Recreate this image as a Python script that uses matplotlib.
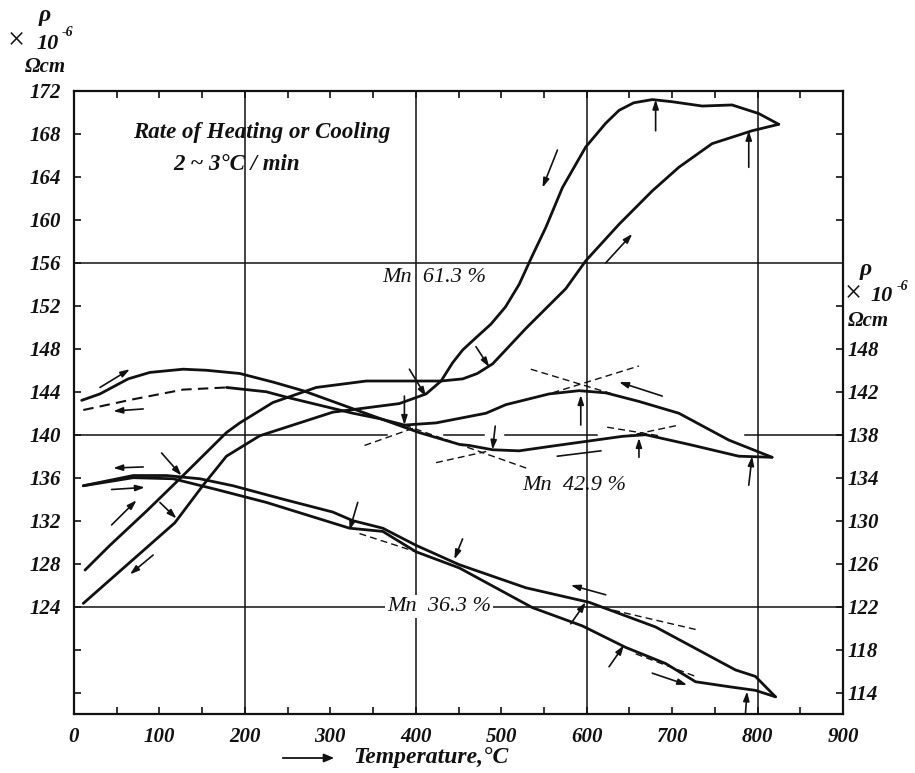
import matplotlib
matplotlib.use("Agg")
import matplotlib.pyplot as plt

# ── Mn 61.3 % loop ──
mn613_heat_T = [12.9, 42, 85, 123.8, 178.4, 194, 232.8, 283.5, 342, 429.6, 455,
                472, 490, 528.9, 575.6, 599, 638, 676.8, 707.9, 746.8, 793.6, 824.8]
mn613_heat_rho = [127.4, 129.7, 132.9, 135.9, 140.2, 141.1, 143.0, 144.4, 145.0, 145.0, 145.2,
                  145.7, 146.6, 149.9, 153.6, 156.2, 159.6, 162.7, 164.9, 167.1, 168.3, 168.9]
mn613_cool_T = [824.8, 801.4, 770.2, 735.2, 700.1, 676.8, 655, 637.9, 622.3, 599, 571.6,
                552.2, 536, 521, 505, 488, 470, 455, 443.1, 429.6, 412.1, 380.8, 302.9,
                244.5, 217.3, 178.4, 151.1, 118, 10.9]
mn613_cool_rho = [168.9, 169.9, 170.7, 170.6, 171.0, 171.2, 170.9, 170.2, 169.0, 166.8, 163.0,
                  159.3, 156.6, 154.0, 151.9, 150.3, 149.0, 147.9, 146.7, 145.0, 143.8, 142.9,
                  142.1, 140.6, 139.9, 138.0, 135.3, 131.8, 124.3]

# ── Mn 42.9 % ──
mn429_a_T = [9.0, 30.4, 63.4, 88.8, 127.7, 155, 194, 233, 268, 334, 404, 451, 462.6,
             490, 521, 556, 583, 642, 669, 719.6, 778, 817]
mn429_a_rho = [143.2, 143.8, 145.2, 145.8, 146.1, 146.0, 145.7, 144.9, 144.1, 142.2, 140.2,
               139.1, 139.0, 138.6, 138.5, 138.9, 139.2, 139.85, 140.0, 139.1, 138.0, 137.9]
mn429_b_dash_T = [10.9, 69.3, 127.7, 178.4]
mn429_b_dash_rho = [142.3, 143.3, 144.2, 144.4]
mn429_b_T = [178.4, 225, 248.5, 326.4, 357.5, 386.7, 423.7, 482.1, 505.5, 556.1, 591.1,
             622.3, 661.2, 707.9, 766.4, 817]
mn429_b_rho = [144.4, 144.0, 143.5, 142.0, 141.5, 140.9, 141.1, 142.0, 142.8, 143.8, 144.1,
               143.9, 143.1, 142.0, 139.5, 137.9]

# ── Mn 36.3 % ──
mn363_a_T = [10.9, 69.3, 108.3, 147.2, 186.1, 244.5, 302.9, 326.3, 361.3, 400.4, 450.9,
             528.9, 602.8, 680.7, 774.2, 797.5, 821]
mn363_a_rho = [135.25, 136.2, 136.2, 135.9, 135.25, 134.0, 132.8, 132.0, 131.3, 129.7, 127.9,
               125.75, 124.4, 122.1, 118.1, 117.5, 115.6]
mn363_b_T = [10.9, 69.3, 116, 166.7, 225.1, 322.4, 361.3, 400.4, 450.9, 536.6, 595,
             645.7, 692.4, 727.5, 770.2, 797.5, 821]
mn363_b_rho = [135.25, 136.0, 135.9, 134.9, 133.7, 131.3, 131.0, 129.1, 127.6, 123.9, 122.2,
               120.2, 118.7, 117.0, 116.5, 116.2, 115.6]

# dashed tangent construction lines: (T0, rho0, T1, rho1)
tangents = [
    (340, 139.0, 400.4, 140.7), (386.7, 140.9, 532.7, 136.8), (423.7, 137.4, 486, 138.5),
    (534.6, 146.1, 630, 143.8), (560, 143.9, 661.2, 146.4),
    (624, 140.7, 685, 139.9), (645.6, 139.85, 708, 140.9),
    (334.1, 130.8, 400.4, 129.1), (618.3, 123.9, 731.3, 121.8), (657.4, 119.6, 727.5, 117.5),
]

# direction arrows: (tail T, tail rho, head T, head rho)
arrows = [
    (565.8, 166.5, 548.3, 163.0), (622.3, 156.0, 653.4, 158.7), (680.7, 168.3, 680.7, 171.2),
    (789.7, 164.9, 789.7, 168.3), (392.5, 146.1, 412, 143.55), (470.4, 148.2, 486, 146.3),
    (102.5, 138.3, 125.8, 136.2), (100.5, 133.7, 120, 132.2), (44, 131.6, 73.2, 133.9),
    (92.6, 128.8, 65.4, 127.0),
    (30.4, 144.4, 65.4, 146.1), (81, 142.4, 46, 142.2), (386.7, 143.6, 386.7, 140.9),
    (593.1, 140.9, 593.1, 143.7), (688.4, 143.6, 637.9, 144.9), (493, 140.8, 489.8, 138.6),
    (661.2, 137.9, 661.2, 139.7), (789.7, 135.3, 793.6, 138.0),
    (81, 137.0, 45.9, 136.9), (44, 134.9, 83, 135.1), (332.1, 133.7, 322.4, 131.1),
    (454.8, 130.3, 445.1, 128.4), (622.3, 125.1, 581.4, 126.0), (581.4, 122.4, 598.9, 124.4),
    (626.2, 118.4, 643.7, 120.4), (676.8, 117.8, 717.6, 116.7), (785.9, 114.1, 787.7, 116.1),
]
plain_marks = [(565.8, 138.0, 616.5, 138.5)]

x_major = [0, 100, 200, 300, 400, 500, 600, 700, 800, 900]
left_labels = [124, 128, 132, 136, 140, 144, 148, 152, 156, 160, 164, 168, 172]
left_minor = [116, 120]
right_pos = [116, 120, 124, 128, 132, 136, 140, 144, 148]
right_labels = ["114", "118", "122", "126", "130", "134", "138", "142", "148"]
right_minor = [152, 160, 164, 168]

FONT = "Liberation Serif"
INK = "#111111"
W, H = 915, 773

fig = plt.figure(figsize=(W / 100, H / 100), dpi=100, facecolor="white")
ax = fig.add_axes([74 / W, 1 - 714 / H, (843 - 74) / W, (714 - 91) / H])
ax.set_xlim(0, 900)
ax.set_ylim(114, 172)

# grid, drawn with the hand-drawn breaks of the original
for gx in [200, 400, 600, 800]:
    ax.plot([gx, gx], [114, 172], color=INK, lw=1.1, zorder=1)
for y, spans in [(156, [(0, 900)]),
                 (140, [(0, 366), (433, 480), (505, 612), (785, 900)]),
                 (124, [(0, 900)])]:
    for a, b in spans:
        ax.plot([a, b], [y, y], color=INK, lw=1.1, zorder=1)

curve_kw = dict(color=INK, lw=2.0, solid_capstyle="round", solid_joinstyle="round", zorder=4)
ax.plot(mn613_heat_T, mn613_heat_rho, **curve_kw)
ax.plot(mn613_cool_T, mn613_cool_rho, **curve_kw)
ax.plot(mn429_a_T, mn429_a_rho, **curve_kw)
ax.plot(mn429_b_T, mn429_b_rho, **curve_kw)
ax.plot(mn429_b_dash_T, mn429_b_dash_rho, color=INK, lw=1.5, ls=(0, (5, 3)), zorder=4)
ax.plot(mn363_a_T, mn363_a_rho, **curve_kw)
ax.plot(mn363_b_T, mn363_b_rho, **curve_kw)

for t0, r0, t1, r1 in tangents:
    ax.plot([t0, t1], [r0, r1], color=INK, lw=1.0, ls=(0, (5, 3)), zorder=3)
for t0, r0, t1, r1 in plain_marks:
    ax.plot([t0, t1], [r0, r1], color=INK, lw=1.2, zorder=3)
for t0, r0, t1, r1 in arrows:
    ax.annotate("", xy=(t1, r1), xytext=(t0, r0),
                arrowprops=dict(arrowstyle="-|>,head_length=0.55,head_width=0.18",
                                color=INK, lw=1.2, shrinkA=0, shrinkB=0), zorder=5)

# axes and ticks
for s in ax.spines.values():
    s.set_linewidth(1.6)
    s.set_color(INK)
ax.set_xticks(x_major)
ax.set_xticks(range(50, 900, 100), minor=True)
ax.set_yticks(left_labels)
ax.set_yticks(left_minor, minor=True)
ax.tick_params(which="both", direction="in", top=True, color=INK, width=1.2, length=5)
ax.tick_params(axis="x", pad=9)
ax.tick_params(axis="y", pad=9)
for lab in ax.get_xticklabels() + ax.get_yticklabels():
    lab.set_fontfamily(FONT)
    lab.set_fontstyle("italic")
    lab.set_fontweight("bold")
    lab.set_fontsize(15)
    lab.set_color(INK)

ax2 = ax.twinx()
ax2.set_ylim(ax.get_ylim())
ax2.set_yticks(right_pos)
ax2.set_yticklabels(right_labels)
ax2.set_yticks(right_minor, minor=True)
ax2.tick_params(which="both", direction="in", length=5, width=1.2, color=INK, pad=3)
for s in ax2.spines.values():
    s.set_visible(False)
for lab in ax2.get_yticklabels():
    lab.set_fontfamily(FONT)
    lab.set_fontstyle("italic")
    lab.set_fontweight("bold")
    lab.set_fontsize(15)
    lab.set_color(INK)

txt = dict(fontfamily=FONT, fontstyle="italic", color=INK)
ax.text(69, 168.1, "Rate of Heating or Cooling", fontsize=16.5, va="center",
        fontweight="bold", **txt)
ax.text(115.7, 165.2, "2 ~ 3°C / min", fontsize=16.5, va="center", fontweight="bold", **txt)
ax.text(361, 154.6, "Mn  61.3 %", fontsize=16, va="center", **txt)
ax.text(524.5, 135.25, "Mn  42.9 %", fontsize=16, va="center", **txt)
ax.text(366.8, 124, "Mn  36.3 %", fontsize=16, va="center", zorder=3,
        bbox=dict(facecolor="white", edgecolor="none", pad=1.5), **txt)


def ftext(px, py, s, size, **kw):
    fig.text(px / W, 1 - py / H, s, fontsize=size, ha="center", va="center", **txt, **kw)


# left axis unit
ftext(45, 15, "ρ", 17, fontweight="bold")
ftext(16, 41, "×", 22)
ftext(48, 44, "10", 16, fontweight="bold")
ftext(68, 33, "-6", 10, fontweight="bold")
ftext(45, 67, "Ωcm", 15, fontweight="bold")
# right axis unit
ftext(866, 270, "ρ", 17, fontweight="bold")
ftext(853, 294, "×", 22)
ftext(882, 296, "10", 16, fontweight="bold")
ftext(903, 286, "-6", 10, fontweight="bold")
ftext(868, 321, "Ωcm", 15, fontweight="bold")

# x axis title with its arrow
fig.add_artist(matplotlib.patches.FancyArrowPatch(
    (280 / W, 1 - 758 / H), (337 / W, 1 - 758 / H), transform=fig.transFigure,
    arrowstyle="-|>,head_length=6,head_width=2.5", color=INK, lw=1.3))
ftext(431, 758, "Temperature,°C", 17, fontweight="bold")

fig.savefig("out.png", dpi=100, facecolor="white")
